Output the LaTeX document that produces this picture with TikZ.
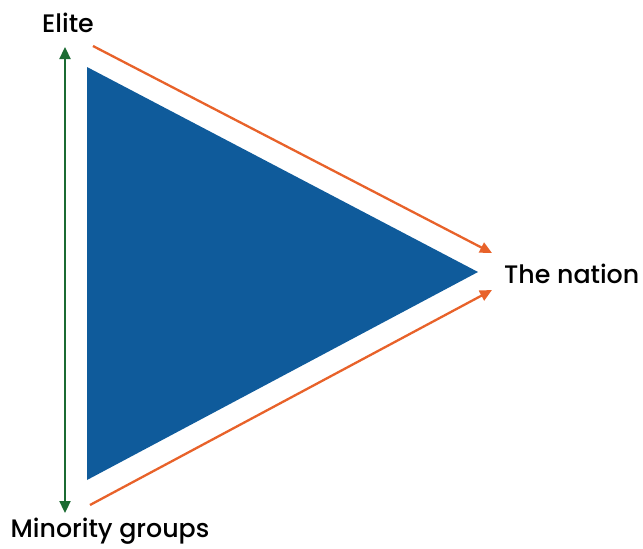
\documentclass[tikz,border=0pt]{standalone}
\usepackage{fontspec}
\setmainfont{Poppins Medium}
\usetikzlibrary{arrows.meta}
\definecolor{triblue}{HTML}{0F5B9B}
\definecolor{arrorange}{HTML}{E8622A}
\definecolor{arrgreen}{HTML}{1B6B32}
\tikzset{
  lbl/.style={font=\fontsize{25.3}{29}\selectfont, text=black, inner sep=0pt},
  orangearrow/.style={draw=arrorange, line width=2.3pt, -{Triangle[length=12pt,width=11pt]}},
  greenarrow/.style={draw=arrgreen, line width=2.3pt, {Triangle[length=12pt,width=11pt]}-{Triangle[length=12pt,width=11pt]}}
}
\begin{document}
\begin{tikzpicture}[x=1pt,y=-1pt]
\useasboundingbox (0,0) rectangle (643,549);
\fill[triblue] (87,67) coordinate (tl) -- (478,272) coordinate (tip) -- (87,480) coordinate (bl) -- cycle;
\node[lbl] (elite) at (68,23) {Elite};
\node[lbl, anchor=west] (nation) at (504,274) {The nation};
\node[lbl] (minority) at (110,531) {Minority groups};
\coordinate (gtop) at (65,47);
\coordinate (gbot) at (65,513);
\draw[greenarrow] (gtop) -- (gbot);
\coordinate (o1s) at (93,46);
\coordinate (o1e) at (492,253);
\coordinate (o2s) at (90,505);
\coordinate (o2e) at (492,290);
\draw[orangearrow] (o1s) -- (o1e);
\draw[orangearrow] (o2s) -- (o2e);
\end{tikzpicture}
\end{document}
